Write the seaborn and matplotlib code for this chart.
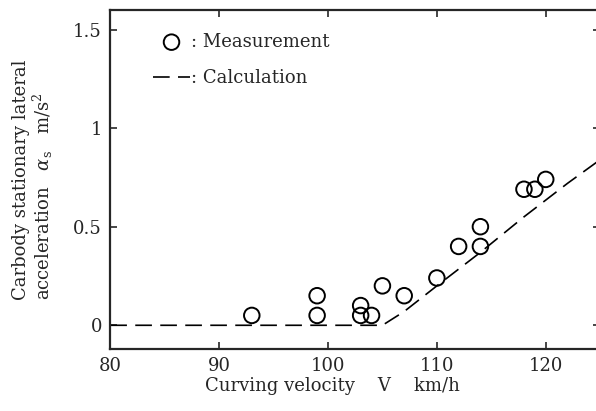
import matplotlib
matplotlib.use("Agg")
import matplotlib.pyplot as plt
import seaborn as sns
import pandas as pd

# Measured data
meas_v = [93, 99, 99, 103, 103, 104, 105, 107, 110, 112, 114, 114, 118, 119, 120]
meas_a = [0.05, 0.15, 0.05, 0.10, 0.05, 0.05, 0.20, 0.15, 0.24, 0.40, 0.50, 0.40, 0.69, 0.69, 0.74]

# Calculated curve
calc_v = [80, 105, 107, 110, 114, 118, 122, 125]
calc_a = [0.0, 0.0, 0.07, 0.20, 0.37, 0.55, 0.72, 0.84]

x_ticks = [80, 90, 100, 110, 120]
y_ticks = [0, 0.5, 1, 1.5]
y_tick_labels = ["0", "0.5", "1", "1.5"]

sns.set_style("ticks")
plt.rcParams['font.family'] = ['DejaVu Serif']
plt.rcParams['mathtext.fontset'] = 'dejavuserif'

fig = plt.figure(figsize=(5.96, 4.11), dpi=100)
ax = fig.add_axes([0.185, 0.151, 0.822, 0.825])

df_m = pd.DataFrame({"v": meas_v, "a": meas_a})
df_c = pd.DataFrame({"v": calc_v, "a": calc_a})

sns.lineplot(data=df_c, x="v", y="a", ax=ax, color="black", lw=1.2,
             linestyle=(0, (10, 5)), label=": Calculation", zorder=2)
sns.scatterplot(data=df_m, x="v", y="a", ax=ax, marker="o", s=125,
                facecolor="none", edgecolor="black", linewidth=1.4,
                label=": Measurement", zorder=3)

ax.set_xlim(80, 125)
ax.set_ylim(-0.12, 1.6)
ax.set_xticks(x_ticks)
ax.set_yticks(y_ticks)
ax.set_yticklabels(y_tick_labels)
ax.tick_params(direction="in", top=True, right=True, labelsize=13, length=5, width=1.2, pad=6)
for s in ax.spines.values():
    s.set_linewidth(1.6)

ax.set_xlabel("Curving velocity    V    km/h", fontsize=13)
ax.xaxis.set_label_coords(0.453, -0.083)
ax.set_ylabel("Carbody stationary lateral\nacceleration   $\\alpha_{\\rm s}$   m/s$^2$",
              fontsize=13, linespacing=1.05, multialignment="left")
ax.yaxis.set_label_coords(-0.112, 0.50)

h, l = ax.get_legend_handles_labels()
leg = ax.legend([h[1], h[0]], [l[1], l[0]], loc="upper left", frameon=False,
                fontsize=13, handlelength=2.0, handletextpad=0.1,
                bbox_to_anchor=(0.055, 0.98), labelspacing=1.0)

fig.savefig("out.png", dpi=100)
